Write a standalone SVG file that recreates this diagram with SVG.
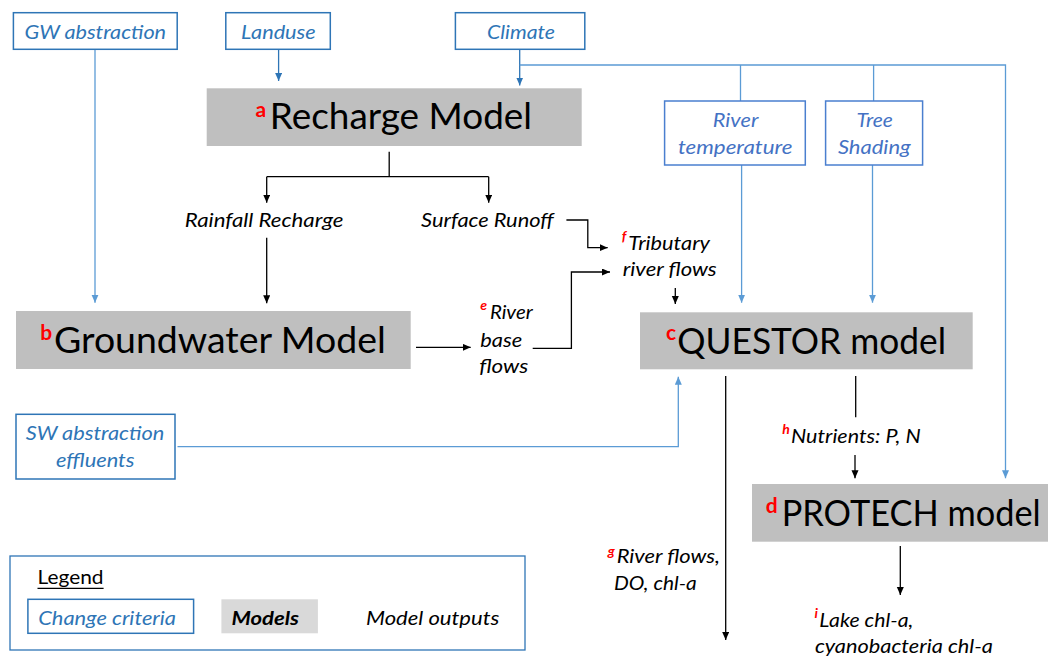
<svg xmlns="http://www.w3.org/2000/svg" width="1049" height="656" viewBox="0 0 1049 656">
<defs>
<marker id="ab" markerUnits="userSpaceOnUse" markerWidth="10" markerHeight="8" refX="8" refY="3.5" orient="auto"><path d="M0,0 L8,3.5 L0,7 z" fill="#000"/></marker>
<marker id="al" markerUnits="userSpaceOnUse" markerWidth="10" markerHeight="8" refX="8" refY="3.5" orient="auto"><path d="M0,0 L8,3.5 L0,7 z" fill="#5b9bd5"/></marker>
<marker id="ad" markerUnits="userSpaceOnUse" markerWidth="10" markerHeight="8" refX="8" refY="3.5" orient="auto"><path d="M0,0 L8,3.5 L0,7 z" fill="#2e75b6"/></marker>
</defs>
<style>
text{font-family:Lato,"Liberation Sans",sans-serif}
.crit{fill:#fff;stroke:#2e75b6;stroke-width:1.5}
.crit2{fill:#fff;stroke:#4a7fcf;stroke-width:1.5}
.ct{fill:#2e75b6;font-style:italic;font-size:20px}
.ct2{fill:#4472c4;font-style:italic;font-size:20px}
.model{fill:#bfbfbf}
.mt{fill:#000;font-size:37px}
.sup{fill:#ff0000;font-weight:bold;font-size:21px}
.out{fill:#000;font-style:italic;font-size:19px}
.osup{fill:#ff0000;font-weight:bold;font-style:italic;font-size:14px}
.bl{fill:none;stroke:#000;stroke-width:1.3}
.lb{fill:none;stroke:#5b9bd5;stroke-width:1.3}
.db{fill:none;stroke:#2e75b6;stroke-width:1.3}
</style>
<rect width="1049" height="656" fill="#fff"/>

<g id="connectors">
<path class="lb" d="M95,49.5 V302.7" marker-end="url(#al)"/>
<path class="db" d="M278.6,49.5 V81" marker-end="url(#ad)"/>
<path class="db" d="M519.7,49.5 V85.5" marker-end="url(#ad)"/>
<path class="lb" d="M519.7,65 H1005.5 V478.3" marker-end="url(#al)"/>
<path class="lb" d="M740.5,65 V101"/>
<path class="lb" d="M873.6,65 V101"/>
<path class="lb" d="M741.6,165 V302.7" marker-end="url(#al)"/>
<path class="lb" d="M872.5,165 V302.7" marker-end="url(#al)"/>
<path class="lb" d="M177.5,446.7 H678.3 V376.7" marker-end="url(#al)"/>
<path class="bl" d="M389.2,151.7 V176.7 M266.7,176.7 H488.7"/>
<path class="bl" d="M266.7,176.7 V202.7" marker-end="url(#ab)"/>
<path class="bl" d="M488.7,176.7 V202.7" marker-end="url(#ab)"/>
<path class="bl" d="M266.7,237.7 V303.3" marker-end="url(#ab)"/>
<path class="bl" d="M416,347.3 H470.7" marker-end="url(#ab)"/>
<path class="bl" d="M566.4,220 H587.8 V247.7 H607.7" marker-end="url(#ab)"/>
<path class="bl" d="M532.7,348.3 H571.4 V272 H610" marker-end="url(#ab)"/>
<path class="bl" d="M675.3,288 V304" marker-end="url(#ab)"/>
<path class="bl" d="M725.7,376 V640" marker-end="url(#ab)"/>
<path class="bl" d="M855.7,376 V417.3"/>
<path class="bl" d="M855,455 V478.3" marker-end="url(#ab)"/>
<path class="bl" d="M900.3,546 V595" marker-end="url(#ab)"/>
</g>

<g id="gw-abstraction">
<rect class="crit" x="13.4" y="12.7" width="163.8" height="36.6"/>
<text class="ct" x="95.3" y="38.5" text-anchor="middle" textLength="141.6" lengthAdjust="spacingAndGlyphs">GW abstraction</text>
</g>
<g id="landuse">
<rect class="crit" x="225.8" y="12.7" width="104.5" height="36.6"/>
<text class="ct" x="278.4" y="38.5" text-anchor="middle" textLength="74.6" lengthAdjust="spacingAndGlyphs">Landuse</text>
</g>
<g id="climate">
<rect class="crit" x="455.4" y="12.7" width="129.4" height="36.6"/>
<text class="ct" x="521" y="38.5" text-anchor="middle" textLength="68" lengthAdjust="spacingAndGlyphs">Climate</text>
</g>
<g id="river-temperature">
<rect class="crit2" x="664.6" y="101" width="140.7" height="64"/>
<text class="ct2" x="735.6" y="127.3" text-anchor="middle" textLength="45.5" lengthAdjust="spacingAndGlyphs">River</text>
<text class="ct2" x="735.2" y="154" text-anchor="middle" textLength="114.5" lengthAdjust="spacingAndGlyphs">temperature</text>
</g>
<g id="tree-shading">
<rect class="crit2" x="825.6" y="101" width="97" height="64"/>
<text class="ct2" x="874.6" y="127.3" text-anchor="middle" textLength="36.4" lengthAdjust="spacingAndGlyphs">Tree</text>
<text class="ct2" x="874.3" y="154" text-anchor="middle" textLength="72.8" lengthAdjust="spacingAndGlyphs">Shading</text>
</g>
<g id="sw-abstraction">
<rect class="crit" x="16" y="414.3" width="159" height="64.7"/>
<text class="ct" x="95" y="440" text-anchor="middle" textLength="138.6" lengthAdjust="spacingAndGlyphs">SW abstraction</text>
<text class="ct" x="95.3" y="466.7" text-anchor="middle" textLength="78.6" lengthAdjust="spacingAndGlyphs">effluents</text>
</g>

<g id="recharge-model">
<rect class="model" x="206.7" y="88.3" width="375" height="57.7"/>
<text class="sup" x="255.6" y="117">a</text>
<text class="mt" x="269.8" y="129.3" textLength="262.2" lengthAdjust="spacingAndGlyphs">Recharge Model</text>
</g>
<g id="groundwater-model">
<rect class="model" x="16" y="311" width="394.7" height="58"/>
<text class="sup" x="40.2" y="340">b</text>
<text class="mt" x="54" y="352.7" textLength="331.8" lengthAdjust="spacingAndGlyphs">Groundwater Model</text>
</g>
<g id="questor-model">
<rect class="model" x="640" y="312.3" width="332.7" height="57"/>
<text class="sup" x="666" y="340">c</text>
<text class="mt" x="677.3" y="354" textLength="268.7" lengthAdjust="spacingAndGlyphs">QUESTOR model</text>
</g>
<g id="protech-model">
<rect class="model" x="752" y="484" width="296" height="57.7"/>
<text class="sup" x="765.7" y="512.7">d</text>
<text class="mt" x="781.7" y="525.7" font-size="32.5" textLength="259" lengthAdjust="spacingAndGlyphs">PROTECH model</text>
</g>

<g id="rainfall-recharge">
<text class="out" x="184.8" y="226.7" textLength="158.5" lengthAdjust="spacingAndGlyphs">Rainfall Recharge</text>
</g>
<g id="surface-runoff">
<text class="out" x="421" y="226.7" textLength="132.8" lengthAdjust="spacingAndGlyphs">Surface Runoff</text>
</g>
<g id="tributary-flows">
<text class="osup" x="621.7" y="241">f</text>
<text class="out" x="628.3" y="250" textLength="81.7" lengthAdjust="spacingAndGlyphs">Tributary</text>
<text class="out" x="622.7" y="276" textLength="94" lengthAdjust="spacingAndGlyphs">river flows</text>
</g>
<g id="river-base-flows">
<text class="osup" x="480.3" y="310">e</text>
<text class="out" x="489.9" y="319.3" textLength="42.8" lengthAdjust="spacingAndGlyphs">River</text>
<text class="out" x="480.3" y="346.7" textLength="42" lengthAdjust="spacingAndGlyphs">base</text>
<text class="out" x="479.2" y="373.3" textLength="49" lengthAdjust="spacingAndGlyphs">flows</text>
</g>
<g id="nutrients">
<text class="osup" x="782.2" y="434">h</text>
<text class="out" x="791" y="443.3" textLength="129.7" lengthAdjust="spacingAndGlyphs">Nutrients: P, N</text>
</g>
<g id="river-flows-do">
<text class="osup" x="607.8" y="556">g</text>
<text class="out" x="616.7" y="563.3" textLength="103.3" lengthAdjust="spacingAndGlyphs">River flows,</text>
<text class="out" x="614" y="590" textLength="82.7" lengthAdjust="spacingAndGlyphs">DO, chl-a</text>
</g>
<g id="lake-chla">
<text class="osup" x="814.5" y="618">i</text>
<text class="out" x="819.3" y="626.7" textLength="94" lengthAdjust="spacingAndGlyphs">Lake chl-a,</text>
<text class="out" x="815" y="652.5" textLength="178" lengthAdjust="spacingAndGlyphs">cyanobacteria chl-a</text>
</g>

<g id="legend">
<rect x="10" y="556" width="515" height="94" fill="#fff" stroke="#2e75b6" stroke-width="1.3"/>
<text x="37.5" y="584" font-size="19" fill="#000" textLength="66" lengthAdjust="spacingAndGlyphs">Legend</text>
<line x1="37.5" y1="588.3" x2="103.6" y2="588.3" stroke="#000" stroke-width="1.3"/>
<rect class="crit" x="27.9" y="599.3" width="165.7" height="34" stroke-width="1.2"/>
<text class="ct" x="38.2" y="625" textLength="137.8" lengthAdjust="spacingAndGlyphs">Change criteria</text>
<rect x="221.4" y="599.3" width="96.5" height="34" fill="#d9d9d9"/>
<text x="231.4" y="625" font-size="19" font-style="italic" font-weight="bold" fill="#000" textLength="67.6" lengthAdjust="spacingAndGlyphs">Models</text>
<text class="out" x="366" y="625" textLength="133.3" lengthAdjust="spacingAndGlyphs">Model outputs</text>
</g>
</svg>
